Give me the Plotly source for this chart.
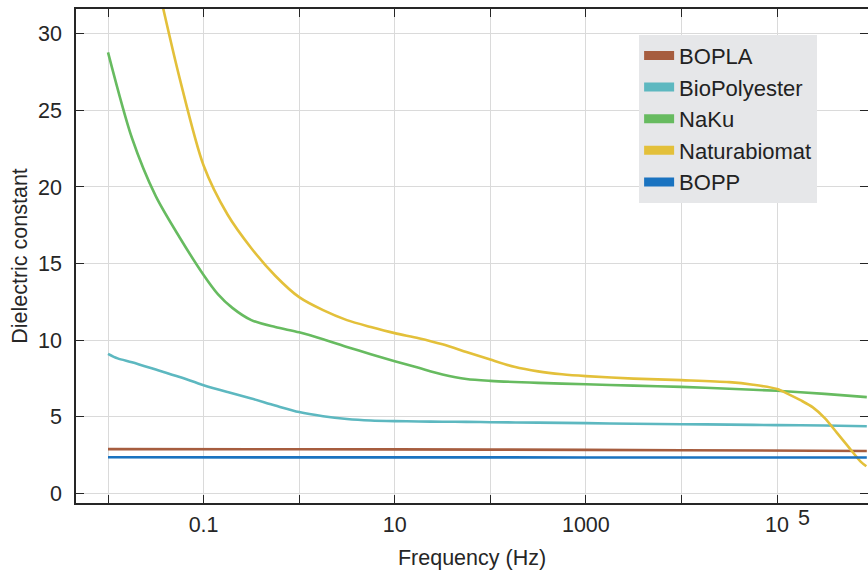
import plotly.graph_objects as go

# ---- data ----
grid_f = [0.01, 0.0178, 0.0316, 0.0562, 0.1, 0.178, 0.316, 0.562, 1, 1.78, 3.16, 5.62, 10,
          17.8, 31.6, 56.2, 100, 316, 1000, 3160, 1e4, 3.16e4, 1e5, 3.16e5, 8.7e5]

bopla_f = [0.01, 1, 100, 1e4, 8.7e5]
bopla_v = [2.87, 2.86, 2.84, 2.80, 2.75]

biopoly_f = [0.01, 0.0126] + grid_f[1:]
biopoly_v = [9.1, 8.8, 8.55, 8.07, 7.58, 7.05, 6.6, 6.18, 5.72, 5.29, 5.02, 4.84, 4.74, 4.7,
             4.68, 4.66, 4.65, 4.63, 4.6, 4.57, 4.53, 4.5, 4.47, 4.44, 4.41, 4.37]

naku_f = [0.01, 0.0178, 0.0316, 0.0562, 0.1, 0.141, 0.2, 0.316, 0.562, 1, 1.78, 3.16, 5.62, 10,
          17.8, 31.6, 56.2, 100, 316, 1000, 3160, 1e4, 3.16e4, 1e5, 3.16e5, 8.7e5]
naku_v = [28.8, 23.2, 19.4, 16.7, 14.25, 13.0, 12.1, 11.3, 10.85, 10.5, 10.05, 9.55, 9.07, 8.62,
          8.18, 7.75, 7.45, 7.33, 7.2, 7.11, 7.02, 6.94, 6.82, 6.68, 6.48, 6.27]

natura_f = [0.0316, 0.0562, 0.1, 0.178, 0.316, 0.562, 1, 1.78, 3.16, 5.62, 10, 17.8, 31.6, 56.2,
            100, 178, 316, 562, 1000, 3160, 1e4, 3.16e4, 5.62e4, 1e5, 1.33e5, 1.78e5, 2.37e5,
            3.16e5, 4.22e5, 5.62e5, 7.5e5, 8.6e5]
natura_v = [33.8, 27.1, 21.4, 18.2, 16.0, 14.2, 12.8, 11.95, 11.3, 10.85, 10.45, 10.12, 9.72, 9.22,
            8.72, 8.25, 7.95, 7.76, 7.64, 7.48, 7.38, 7.25, 7.08, 6.8, 6.45, 6.05, 5.6,
            4.9, 3.95, 3.0, 2.05, 1.75]

bopp_f = [0.01, 1, 100, 1e4, 8.7e5]
bopp_v = [2.34, 2.33, 2.33, 2.32, 2.32]

series = [
    ("BOPLA", bopla_f, bopla_v, "#A65D3F"),
    ("BioPolyester", biopoly_f, biopoly_v, "#5DB8C0"),
    ("NaKu", naku_f, naku_v, "#67BB60"),
    ("Naturabiomat", natura_f, natura_v, "#E3C03A"),
    ("BOPP", bopp_f, bopp_v, "#1A73C0"),
]

x_tickvals = [0.1, 10, 1000, 1e5]
x_ticktext = ["0.1", "10", "1000", "10"]
x_minorvals = [0.01, 1, 100, 1e4]
exp_label = "5"
y_tickvals = [0, 5, 10, 15, 20, 25, 30]

FONT = "Liberation Sans, Arial, sans-serif"
AX = "#262626"
FS = 21.5

fig = go.Figure()
for name, f, v, c in series:
    fig.add_trace(go.Scatter(x=f, y=v, mode="lines", name=name, showlegend=False,
                             line=dict(color=c, width=2.6, shape="spline", smoothing=0.8)))
# legend swatches (thick)
for name, f, v, c in series:
    fig.add_trace(go.Scatter(x=[None], y=[None], mode="lines", name=name,
                             line=dict(color=c, width=9)))

fig.add_shape(type="line", xref="x", yref="paper", x0=0, x1=0, y0=0, y1=1,
              line=dict(color="#8c8c8c", width=1.3, dash="6px,4px"))

fig.add_annotation(x=5, y=0, xref="x", yref="paper", text=exp_label, showarrow=False,
                   xshift=27, yshift=-15, yanchor="middle", font=dict(size=FS, color=AX))

fig.update_layout(
    width=868, height=577,
    margin=dict(l=76, r=0, t=9, b=74),
    paper_bgcolor="white", plot_bgcolor="white",
    font=dict(family=FONT, size=FS, color=AX),
    legend=dict(x=0.711, y=0.948, xanchor="left", yanchor="top",
                bgcolor="#E6E7E9", borderwidth=0, font=dict(size=22, color="#222"),
                itemwidth=30, tracegroupgap=0, traceorder="normal"),
    showlegend=True,
)
fig.update_xaxes(type="log", range=[-2.335, 5.952], tickmode="array", tickvals=x_tickvals, ticktext=x_ticktext,
                 ticks="inside", ticklen=8, tickcolor=AX, tickwidth=1.2,
                 minor=dict(tickmode="array", tickvals=x_minorvals, ticks="inside", ticklen=8,
                            tickcolor=AX, tickwidth=1.2, showgrid=True, gridcolor="#DADADA", gridwidth=1),
                 showline=True, linecolor=AX, linewidth=1.5, mirror="ticks",
                 showgrid=True, gridcolor="#DADADA", gridwidth=1, zeroline=False,
                 ticklabelstandoff=1, automargin=False,
                 title=dict(text="Frequency (Hz)", font=dict(size=FS), standoff=14))
fig.update_yaxes(range=[-0.65, 31.63], tickvals=y_tickvals,
                 ticks="inside", ticklen=8, tickcolor=AX, tickwidth=1.2,
                 showline=True, linecolor=AX, linewidth=1.5, mirror="ticks",
                 showgrid=True, gridcolor="#DADADA", gridwidth=1, zeroline=False,
                 ticklabelstandoff=8, automargin=False,
                 title=dict(text="Dielectric constant", font=dict(size=FS), standoff=5))

fig.write_html("out.html", config={"displayModeBar": False},
               post_script="document.body.style.margin='0px';document.body.style.overflow='hidden';")
